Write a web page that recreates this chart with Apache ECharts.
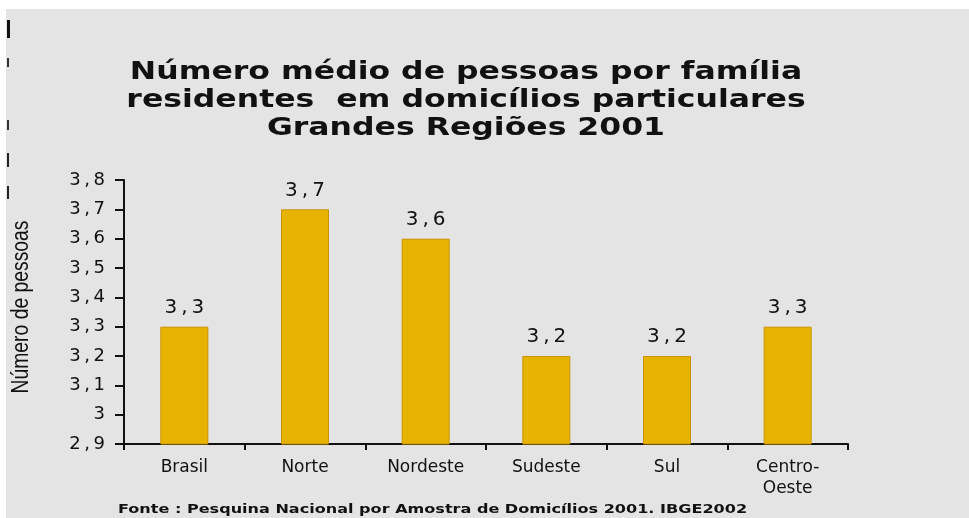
<!DOCTYPE html>
<html>
<head>
<meta charset="utf-8">
<script src="https://cdn.jsdelivr.net/npm/echarts@6/dist/echarts.min.js"></script>
<style>
  html, body { margin: 0; padding: 0; background: #fff; }
  #chart { width: 969px; height: 518px; }
</style>
</head>
<body>
<div id="chart"></div>
<script>
// dados
const categories = ['Brasil', 'Norte', 'Nordeste', 'Sudeste', 'Sul', 'Centro-\nOeste']
const values = [3.3, 3.7, 3.6, 3.2, 3.2, 3.3]
const yMin = 2.9
const yMax = 3.8
const yStep = 0.1

const titleText = 'Número médio de pessoas por família\nresidentes  em domicílios particulares\nGrandes Regiões 2001'
const yName = 'Número de pessoas'
const sourceText = 'Fonte : Pesquina Nacional por Amostra de Domicílios 2001. IBGE2002'

const thin = '\u2009'
function fmt(v) {
  return String(Number(v.toFixed(1))).replace('.', ',').split('').join(thin)
}

const chart = echarts.init(document.getElementById('chart'))

chart.setOption({
  backgroundColor: '#ffffff',
  animation: false,
  graphic: [
    { type: 'rect', z: -10, shape: { x: 6, y: 9, width: 963, height: 509 }, style: { fill: '#e4e4e4' } },
    // restos de texto cortado na borda esquerda
    { type: 'rect', shape: { x: 7, y: 20, width: 3, height: 18 }, style: { fill: '#111' } },
    { type: 'rect', shape: { x: 7, y: 58, width: 2, height: 9 }, style: { fill: '#333' } },
    { type: 'rect', shape: { x: 7, y: 120, width: 2, height: 10 }, style: { fill: '#333' } },
    { type: 'rect', shape: { x: 7, y: 153, width: 2, height: 14 }, style: { fill: '#222' } },
    { type: 'rect', shape: { x: 7, y: 186, width: 2, height: 13 }, style: { fill: '#222' } },
    {
      type: 'text',
      x: 466,
      y: 58,
      scaleX: 1.26,
      style: {
        text: titleText,
        font: 'bold 25px "DejaVu Sans"',
        lineHeight: 28,
        align: 'center',
        verticalAlign: 'top',
        fill: '#111'
      }
    },
    {
      type: 'text',
      x: 22,
      y: 307,
      rotation: Math.PI / 2,
      scaleX: 0.84,
      style: {
        text: yName,
        font: '23px "Liberation Sans"',
        align: 'center',
        verticalAlign: 'middle',
        fill: '#111'
      }
    },
    {
      type: 'text',
      x: 118,
      y: 510,
      scaleX: 1.235,
      style: {
        text: sourceText,
        font: 'bold 13px "DejaVu Sans"',
        verticalAlign: 'middle',
        fill: '#111'
      }
    }
  ],
  grid: {
    left: 124,
    right: 121,
    top: 180,
    bottom: 74,
    outerBoundsMode: 'none',
    containLabel: false
  },
  xAxis: {
    type: 'category',
    data: categories,
    axisLine: { lineStyle: { color: '#111', width: 2 } },
    axisTick: { show: true, length: 6, lineStyle: { color: '#111', width: 2 } },
    axisLabel: {
      fontFamily: 'DejaVu Sans',
      fontSize: 17,
      color: '#111',
      margin: 13,
      lineHeight: 21
    }
  },
  yAxis: {
    type: 'value',
    min: yMin,
    max: yMax,
    interval: yStep,
    splitLine: { show: false },
    axisLine: { show: true, lineStyle: { color: '#111', width: 2 } },
    axisTick: { show: true, length: 9, lineStyle: { color: '#111', width: 2 } },
    axisLabel: {
      fontFamily: 'DejaVu Sans',
      fontSize: 18,
      color: '#111',
      margin: 19,
      formatter: fmt
    }
  },
  series: [
    {
      type: 'bar',
      data: values,
      barWidth: 48,
      itemStyle: {
        color: '#e5b300',
        borderColor: '#c99300',
        borderWidth: 1
      },
      label: {
        show: true,
        position: 'top',
        distance: 9,
        fontFamily: 'DejaVu Sans',
        fontSize: 20,
        color: '#111',
        formatter: (p) => fmt(p.value)
      }
    }
  ]
})
</script>
</body>
</html>
